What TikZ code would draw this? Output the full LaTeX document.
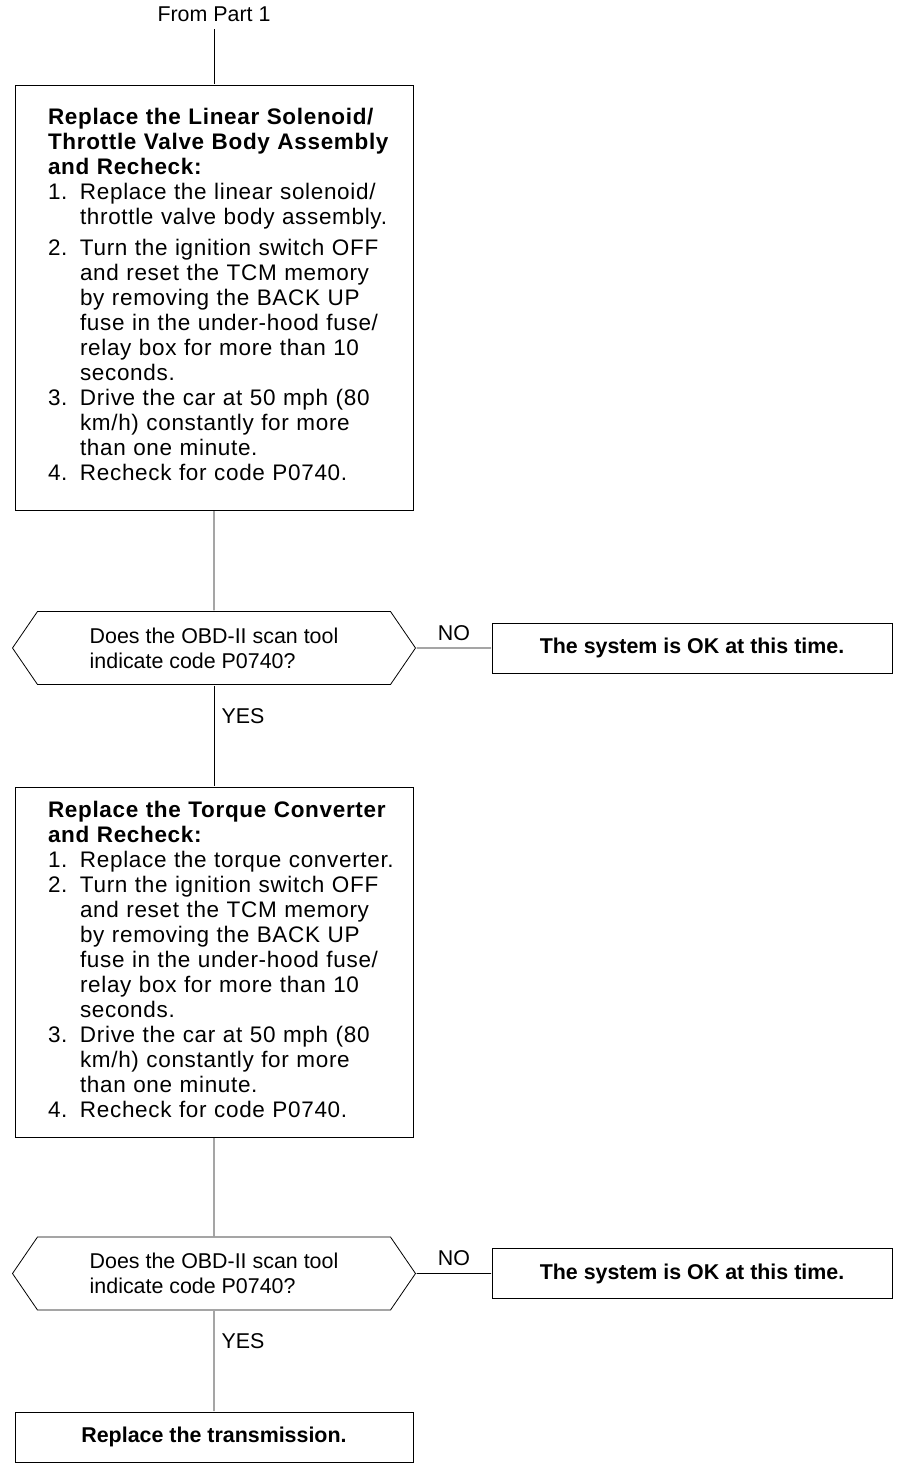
\documentclass[tikz,border=0pt]{standalone}
\usepackage{fontspec}
\setmainfont{Liberation Sans}
\newfontfamily\boxfont{Liberation Sans}[LetterSpace=3]
\usetikzlibrary{shapes.symbols}
\newcommand{\head}[1]{\multicolumn{2}{@{}l@{}}{\bfseries #1}}

\begin{document}
\begin{tikzpicture}
\tikzset{node distance=2cm, line width=1pt,
    every node/.style={font=\fontsize{10.7}{12.5}\selectfont},
    block/.style={rectangle, draw, text width=166pt, inner xsep=16.5pt,
        font=\boxfont\fontsize{11.25}{12.5}\selectfont},
    decision/.style={signal, draw, signal to=west and east, signal pointer angle=111.2,
        minimum width=201.5pt, minimum height=36.5pt, inner xsep=0pt, align=left},
    okbox/.style={rectangle, draw, minimum width=200pt, minimum height=25pt, font=\bfseries\fontsize{10.7}{12.5}\selectfont}
}
  \useasboundingbox (0,0) rectangle (456pt,-734pt);

  \node (from) at (107pt,-7pt) {From Part 1};
  \node[block, below of=from, node distance=141.75pt, minimum height=212.5pt] (box1) {%
    \begin{tabular}{@{}p{16pt}@{}l@{}}
    \head{Replace the Linear Solenoid/}\\
    \head{Throttle Valve Body Assembly}\\
    \head{and Recheck:}\\
    1. & Replace the linear solenoid/\\
       & throttle valve body assembly.\\[3pt]
    2. & Turn the ignition switch OFF\\
       & and reset the TCM memory\\
       & by removing the BACK UP\\
       & fuse in the under-hood fuse/\\
       & relay box for more than 10\\
       & seconds.\\
    3. & Drive the car at 50 mph (80\\
       & km/h) constantly for more\\
       & than one minute.\\
    4. & Recheck for code P0740.
    \end{tabular}};
  \node[decision, below of=box1, node distance=175.25pt] (dia1) {Does the OBD-II scan tool\\indicate code P0740?};
  \node[okbox, right of=dia1, node distance=239pt] (ok1) {The system is OK at this time.};
  \node[block, below of=dia1, node distance=157pt, minimum height=175pt] (box2) {%
    \begin{tabular}{@{}p{16pt}@{}l@{}}
    \head{Replace the Torque Converter}\\
    \head{and Recheck:}\\
    1. & Replace the torque converter.\\
    2. & Turn the ignition switch OFF\\
       & and reset the TCM memory\\
       & by removing the BACK UP\\
       & fuse in the under-hood fuse/\\
       & relay box for more than 10\\
       & seconds.\\
    3. & Drive the car at 50 mph (80\\
       & km/h) constantly for more\\
       & than one minute.\\
    4. & Recheck for code P0740.
    \end{tabular}};
  \node[decision, below of=box2, node distance=155.75pt] (dia2) {Does the OBD-II scan tool\\indicate code P0740?};
  \node[okbox, right of=dia2, node distance=239pt] (ok2) {The system is OK at this time.};
  \node[okbox, below of=dia2, node distance=81.75pt, minimum width=199pt] (box3) {Replace the transmission.};
  \draw (from) -- (box1);
  \draw (box1) -- (dia1);
  \draw (dia1) -- node[above] {NO} (ok1);
  \draw (dia1) -- node[right, pos=0.3] {YES} (box2);
  \draw (box2) -- (dia2);
  \draw (dia2) -- node[above] {NO} (ok2);
  \draw (dia2) -- node[right, pos=0.3] {YES} (box3);
\end{tikzpicture}
\end{document}
